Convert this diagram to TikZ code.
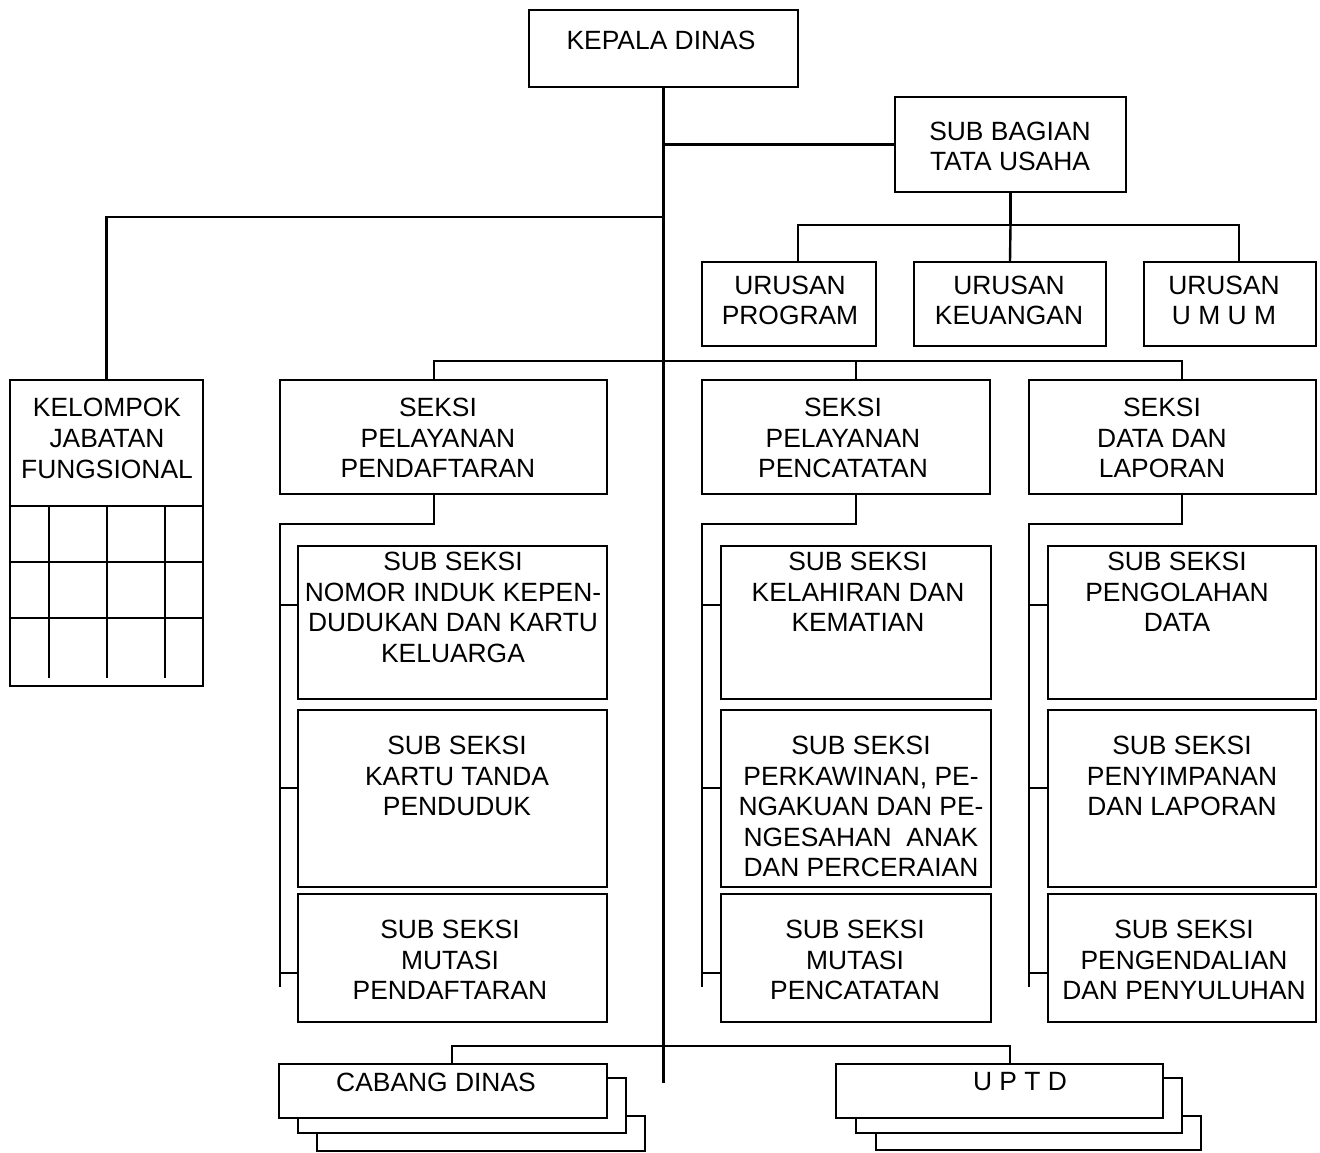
\documentclass[tikz,border=0pt]{standalone}
\usepackage{fontspec}
\setmainfont{Liberation Sans}
\usepackage{xcolor}

\begin{document}
\begin{tikzpicture}[x=1pt, y=-1pt,
        unit/.style={draw=black, fill=white, rectangle, line width=1.8pt, inner sep=0pt},
        txt/.style={align=center, inner sep=0pt, font=\fontsize{26.4}{30.6}\selectfont},
        conn/.style={line width=2.4pt}]
      \useasboundingbox (0,0) rectangle (1320,1152);
      % Pimpinan dan sekretariat
      \node[unit, minimum width=269, minimum height=77] (kd) at (663.5,48.5) {};
      \node[unit, minimum width=231, minimum height=95] (tu) at (1010.5,144.5) {};
      \node[unit, minimum width=174, minimum height=84] (up) at (789,304) {};
      \node[unit, minimum width=192, minimum height=84] (uk) at (1010,304) {};
      \node[unit, minimum width=172, minimum height=84] (uu) at (1230,304) {};
      % Kelompok jabatan fungsional (kotak dengan kisi)
      \node[unit, minimum width=193, minimum height=306] (kjf) at (106.5,533) {};
      \foreach \gy in {506,562,618} \draw[line width=1.8pt] (10,\gy) -- (203,\gy);
      \foreach \gx in {49,107,165} \draw[line width=1.8pt] (\gx,506) -- (\gx,678);
      % Seksi
      \node[unit, minimum width=327, minimum height=114] (s1) at (443.5,437) {};
      \node[unit, minimum width=288, minimum height=114] (s2) at (846,437) {};
      \node[unit, minimum width=287, minimum height=114] (s3) at (1172.5,437) {};
      % Sub seksi
      \node[unit, minimum width=309, minimum height=153] (s1a) at (452.5,622.5) {};
      \node[unit, minimum width=309, minimum height=177] (s1b) at (452.5,798.5) {};
      \node[unit, minimum width=309, minimum height=128] (s1c) at (452.5,958) {};
      \node[unit, minimum width=270, minimum height=153] (s2a) at (856,622.5) {};
      \node[unit, minimum width=270, minimum height=177] (s2b) at (856,798.5) {};
      \node[unit, minimum width=270, minimum height=128] (s2c) at (856,958) {};
      \node[unit, minimum width=268, minimum height=153] (s3a) at (1182,622.5) {};
      \node[unit, minimum width=268, minimum height=177] (s3b) at (1182,798.5) {};
      \node[unit, minimum width=268, minimum height=128] (s3c) at (1182,958) {};
      % Cabang dinas dan UPTD (bertumpuk)
      \node[unit, minimum width=328, minimum height=35] (cd3) at (481,1133.5) {};
      \node[unit, minimum width=328, minimum height=55] (cd2) at (462,1105.5) {};
      \node[unit, minimum width=328, minimum height=54] (cd) at (443,1091) {};
      \node[unit, minimum width=325, minimum height=34] (ud3) at (1038.5,1133) {};
      \node[unit, minimum width=326, minimum height=55] (ud2) at (1019,1105.5) {};
      \node[unit, minimum width=327, minimum height=54] (ud) at (999.5,1091) {};
      % Teks
      \node[txt] (kdt) at (661,40) {KEPALA DINAS};
      \node[txt] (tut) at (1010,146.5) {SUB BAGIAN\\TATA USAHA};
      \node[txt] (upt) at (790,300.5) {URUSAN\\PROGRAM};
      \node[txt] (ukt) at (1009,300.5) {URUSAN\\KEUANGAN};
      \node[txt] (uut) at (1224,300.5) {URUSAN\\U M U M};
      \node[txt] (kjt) at (107,438.5) {KELOMPOK\\JABATAN\\FUNGSIONAL};
      \node[txt] (s1t) at (438,438) {SEKSI\\PELAYANAN\\PENDAFTARAN};
      \node[txt] (s2t) at (843,438) {SEKSI\\PELAYANAN\\PENCATATAN};
      \node[txt] (s3t) at (1162,438) {SEKSI\\DATA DAN\\LAPORAN};
      \node[txt] (s1at) at (453,607.5) {SUB SEKSI\\NOMOR INDUK KEPEN-\\DUDUKAN DAN KARTU\\KELUARGA};
      \node[txt] (s1bt) at (457,776) {SUB SEKSI\\KARTU TANDA\\PENDUDUK};
      \node[txt] (s1ct) at (450,960) {SUB SEKSI\\MUTASI\\PENDAFTARAN};
      \node[txt] (s2at) at (858,592) {SUB SEKSI\\KELAHIRAN DAN\\KEMATIAN};
      \node[txt] (s2bt) at (861,806.5) {SUB SEKSI\\PERKAWINAN, PE-\\NGAKUAN DAN PE-\\NGESAHAN\ \ ANAK\\DAN PERCERAIAN};
      \node[txt] (s2ct) at (855,960) {SUB SEKSI\\MUTASI\\PENCATATAN};
      \node[txt] (s3at) at (1177,592) {SUB SEKSI\\PENGOLAHAN\\DATA};
      \node[txt] (s3bt) at (1182,776) {SUB SEKSI\\PENYIMPANAN\\DAN LAPORAN};
      \node[txt] (s3ct) at (1184,960) {SUB SEKSI\\PENGENDALIAN\\DAN PENYULUHAN};
      \node[txt] (cdt) at (436,1082) {CABANG DINAS};
      \node[txt] (udt) at (1020,1082) {U P T D};
      % Garis utama
      \coordinate (trunkend) at (663.5,1083);
      \draw[conn] (kd.south) -- (trunkend);
      \draw[conn] (kd.south |- tu.west) -- (tu.west);
      % Urusan
      \coordinate (tubus) at (1010.5,225);
      \draw[conn] (tu.south) -- (tubus);
      \draw[conn] ([xshift=9]up.north) |- (tubus) -| ([xshift=9]uu.north);
      \draw[conn] (tubus) -- (uk.north);
      % Kelompok jabatan fungsional
      \coordinate (kjbus) at (663.5,217);
      \draw[conn] (kjbus) -| (kjf.north);
      % Seksi
      \coordinate (sbus) at (663.5,361);
      \draw[conn] ([xshift=-9.5]s1.north) |- (sbus) -| ([xshift=9.5]s3.north);
      \draw[conn] ([xshift=10]s2.north |- sbus) -- ([xshift=10]s2.north);
      % Sub seksi
      \foreach \col/\rx/\dx in {1/280/-9.5, 2/702/10, 3/1029/9.5} {
        \draw[conn] ([xshift=\dx]s\col.south) |- (\rx,524) -- (\rx,987);
        \foreach \sb/\ty in {a/605, b/788, c/973}
          \draw[conn] (\rx,\ty) -- (s\col\sb.west |- 0,\ty);
      }
      % Cabang dinas dan UPTD
      \coordinate (bbus) at (663.5,1046);
      \draw[conn] ([xshift=9]cd.north) |- (bbus) -| ([xshift=10.5]ud.north);
    \end{tikzpicture}
\end{document}
